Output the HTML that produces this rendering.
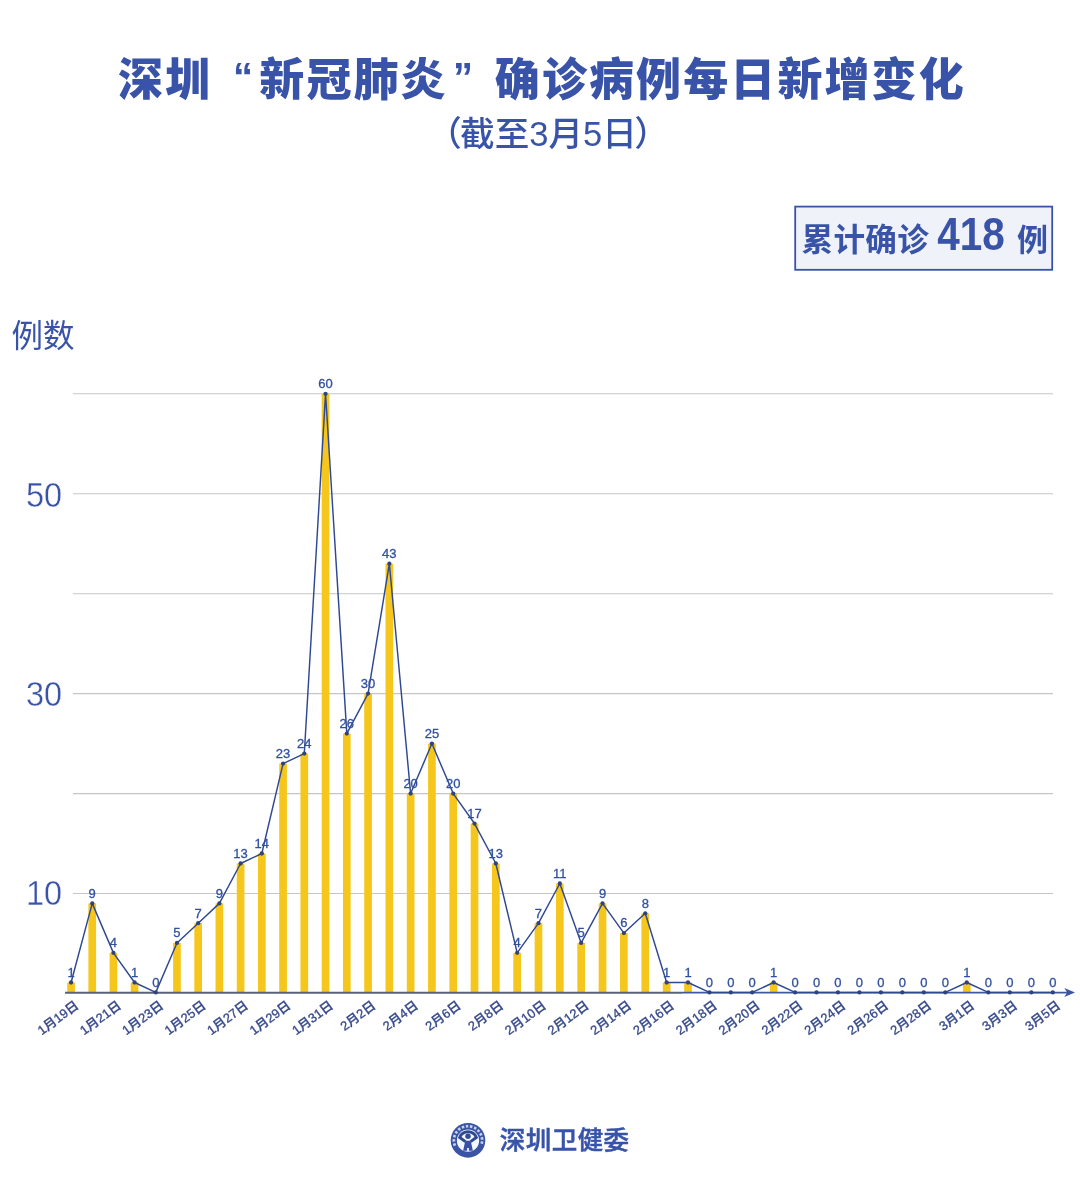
<!DOCTYPE html>
<html lang="zh-CN">
<head>
<meta charset="utf-8">
<title>深圳“新冠肺炎”确诊病例每日新增变化</title>
<style>
html,body{margin:0;padding:0;background:#fff;}
body{width:1080px;height:1184px;overflow:hidden;}
svg{display:block;}
svg text{font-family:"Liberation Sans", "Noto Sans CJK SC", sans-serif;}
</style>
</head>
<body>
<svg width="1080" height="1184" viewBox="0 0 1080 1184">
<rect x="0" y="0" width="1080" height="1184" fill="#ffffff"/>
<text x="118.0 165.1 233.0 259.3 306.4 353.5 400.6 453.0 494.8 541.9 589.0 636.1 683.2 730.3 777.4 824.5 871.6 918.7" y="95.5" font-size="45" font-weight="900" fill="#3853a8">深圳<tspan font-size="40" dy="-4.5">“</tspan><tspan dy="4.5">新冠肺炎</tspan><tspan font-size="40" dy="-4.5">”</tspan><tspan dy="4.5">确诊病例每日新增变化</tspan></text>
<text x="546.8" y="145.5" text-anchor="middle" font-size="34.6" font-weight="500" fill="#3853a8"><tspan dx="1.2">（</tspan><tspan dx="-1.6">截至3月5日</tspan><tspan dx="-2.6">）</tspan></text>
<rect x="795.2" y="206.6" width="257" height="63.2" fill="#f0f2f9" stroke="#3853a8" stroke-width="1.8"/>
<text x="801.5" y="251.3" font-size="31.6" font-weight="700" letter-spacing="0.3" fill="#3853a8">累计确诊</text>
<text x="937.2" y="250.3" font-size="46" font-weight="700" fill="#3853a8" textLength="67.5" lengthAdjust="spacingAndGlyphs">418</text>
<text x="1017" y="251.3" font-size="31" font-weight="700" fill="#3853a8">例</text>
<text x="11.6" y="346.6" font-size="31.5" fill="#3853a8">例数</text>
<g stroke="#c6c6ca" stroke-width="1.1">
<line x1="73" x2="1053" y1="893.5" y2="893.5"/>
<line x1="73" x2="1053" y1="793.6" y2="793.6"/>
<line x1="73" x2="1053" y1="693.6" y2="693.6"/>
<line x1="73" x2="1053" y1="593.7" y2="593.7"/>
<line x1="73" x2="1053" y1="493.7" y2="493.7"/>
<line x1="73" x2="1053" y1="393.8" y2="393.8"/>
</g>
<text x="26" y="904.9" font-size="35" textLength="36.2" lengthAdjust="spacingAndGlyphs" fill="#3853a8" stroke="#ffffff" stroke-width="0.4">10</text>
<text x="26" y="706.0" font-size="35" textLength="36.2" lengthAdjust="spacingAndGlyphs" fill="#3853a8" stroke="#ffffff" stroke-width="0.4">30</text>
<text x="26" y="507.1" font-size="35" textLength="36.2" lengthAdjust="spacingAndGlyphs" fill="#3853a8" stroke="#ffffff" stroke-width="0.4">50</text>
<g fill="#f5c71c">
<rect x="67.23" y="982.51" width="7.7" height="9.89"/>
<rect x="88.39" y="903.39" width="7.7" height="89.01"/>
<rect x="109.56" y="952.84" width="7.7" height="39.56"/>
<rect x="130.74" y="982.51" width="7.7" height="9.89"/>
<rect x="173.12" y="942.95" width="7.7" height="49.45"/>
<rect x="194.32" y="923.17" width="7.7" height="69.23"/>
<rect x="215.53" y="903.39" width="7.7" height="89.01"/>
<rect x="236.75" y="863.52" width="7.7" height="128.88"/>
<rect x="257.97" y="853.52" width="7.7" height="138.88"/>
<rect x="279.21" y="763.58" width="7.7" height="228.82"/>
<rect x="300.45" y="753.58" width="7.7" height="238.82"/>
<rect x="321.70" y="393.80" width="7.7" height="598.60"/>
<rect x="342.96" y="733.60" width="7.7" height="258.80"/>
<rect x="364.22" y="693.62" width="7.7" height="298.78"/>
<rect x="385.50" y="563.70" width="7.7" height="428.70"/>
<rect x="406.78" y="793.56" width="7.7" height="198.84"/>
<rect x="428.07" y="743.59" width="7.7" height="248.81"/>
<rect x="449.37" y="793.56" width="7.7" height="198.84"/>
<rect x="470.67" y="823.54" width="7.7" height="168.86"/>
<rect x="491.99" y="863.52" width="7.7" height="128.88"/>
<rect x="513.31" y="952.84" width="7.7" height="39.56"/>
<rect x="534.64" y="923.17" width="7.7" height="69.23"/>
<rect x="555.98" y="883.51" width="7.7" height="108.89"/>
<rect x="577.32" y="942.95" width="7.7" height="49.45"/>
<rect x="598.68" y="903.39" width="7.7" height="89.01"/>
<rect x="620.04" y="933.06" width="7.7" height="59.34"/>
<rect x="641.41" y="913.28" width="7.7" height="79.12"/>
<rect x="662.79" y="982.51" width="7.7" height="9.89"/>
<rect x="684.18" y="982.51" width="7.7" height="9.89"/>
<rect x="769.80" y="982.51" width="7.7" height="9.89"/>
<rect x="962.93" y="982.51" width="7.7" height="9.89"/>
</g>
<line x1="65" x2="682" y1="992.7" y2="992.7" stroke="#596279" stroke-width="1.9"/>
<line x1="682" x2="1068" y1="992.6" y2="992.6" stroke="#4059a3" stroke-width="1.9"/>
<path d="M1075 992.6 L1064.3 988.1 L1067.2 992.6 L1064.3 997.1 Z" fill="#3d55a0"/>
<polyline points="71.08,982.51 92.24,903.39 113.41,952.84 134.59,982.51 155.77,992.40 176.97,942.95 198.17,923.17 219.38,903.39 240.60,863.52 261.82,853.52 283.06,763.58 304.30,753.58 325.55,393.80 346.81,733.60 368.07,693.62 389.35,563.70 410.63,793.56 431.92,743.59 453.22,793.56 474.52,823.54 495.84,863.52 517.16,952.84 538.49,923.17 559.83,883.51 581.17,942.95 602.53,903.39 623.89,933.06 645.26,913.28 666.64,982.51 688.03,982.51 709.42,992.40 730.82,992.40 752.23,992.40 773.65,982.51 795.08,992.40 816.51,992.40 837.96,992.40 859.41,992.40 880.87,992.40 902.33,992.40 923.81,992.40 945.29,992.40 966.78,982.51 988.28,992.40 1009.79,992.40 1031.30,992.40 1052.83,992.40" fill="none" stroke="#2f4892" stroke-width="1.45" stroke-linejoin="round"/>
<g fill="#2f437f">
<circle cx="71.08" cy="982.51" r="2.15"/>
<circle cx="92.24" cy="903.39" r="2.15"/>
<circle cx="113.41" cy="952.84" r="2.15"/>
<circle cx="134.59" cy="982.51" r="2.15"/>
<circle cx="155.77" cy="992.40" r="2.15"/>
<circle cx="176.97" cy="942.95" r="2.15"/>
<circle cx="198.17" cy="923.17" r="2.15"/>
<circle cx="219.38" cy="903.39" r="2.15"/>
<circle cx="240.60" cy="863.52" r="2.15"/>
<circle cx="261.82" cy="853.52" r="2.15"/>
<circle cx="283.06" cy="763.58" r="2.15"/>
<circle cx="304.30" cy="753.58" r="2.15"/>
<circle cx="325.55" cy="393.80" r="2.15"/>
<circle cx="346.81" cy="733.60" r="2.15"/>
<circle cx="368.07" cy="693.62" r="2.15"/>
<circle cx="389.35" cy="563.70" r="2.15"/>
<circle cx="410.63" cy="793.56" r="2.15"/>
<circle cx="431.92" cy="743.59" r="2.15"/>
<circle cx="453.22" cy="793.56" r="2.15"/>
<circle cx="474.52" cy="823.54" r="2.15"/>
<circle cx="495.84" cy="863.52" r="2.15"/>
<circle cx="517.16" cy="952.84" r="2.15"/>
<circle cx="538.49" cy="923.17" r="2.15"/>
<circle cx="559.83" cy="883.51" r="2.15"/>
<circle cx="581.17" cy="942.95" r="2.15"/>
<circle cx="602.53" cy="903.39" r="2.15"/>
<circle cx="623.89" cy="933.06" r="2.15"/>
<circle cx="645.26" cy="913.28" r="2.15"/>
<circle cx="666.64" cy="982.51" r="2.15"/>
<circle cx="688.03" cy="982.51" r="2.15"/>
<circle cx="709.42" cy="992.40" r="2.15"/>
<circle cx="730.82" cy="992.40" r="2.15"/>
<circle cx="752.23" cy="992.40" r="2.15"/>
<circle cx="773.65" cy="982.51" r="2.15"/>
<circle cx="795.08" cy="992.40" r="2.15"/>
<circle cx="816.51" cy="992.40" r="2.15"/>
<circle cx="837.96" cy="992.40" r="2.15"/>
<circle cx="859.41" cy="992.40" r="2.15"/>
<circle cx="880.87" cy="992.40" r="2.15"/>
<circle cx="902.33" cy="992.40" r="2.15"/>
<circle cx="923.81" cy="992.40" r="2.15"/>
<circle cx="945.29" cy="992.40" r="2.15"/>
<circle cx="966.78" cy="982.51" r="2.15"/>
<circle cx="988.28" cy="992.40" r="2.15"/>
<circle cx="1009.79" cy="992.40" r="2.15"/>
<circle cx="1031.30" cy="992.40" r="2.15"/>
<circle cx="1052.83" cy="992.40" r="2.15"/>
</g>
<g font-size="13" text-anchor="middle" fill="#31509f" stroke="#31509f" stroke-width="0.3">
<text x="71.08" y="976.91">1</text>
<text x="92.24" y="897.79">9</text>
<text x="113.41" y="947.24">4</text>
<text x="134.59" y="976.91">1</text>
<text x="155.77" y="986.80">0</text>
<text x="176.97" y="937.35">5</text>
<text x="198.17" y="917.57">7</text>
<text x="219.38" y="897.79">9</text>
<text x="240.60" y="857.92">13</text>
<text x="261.82" y="847.92">14</text>
<text x="283.06" y="757.98">23</text>
<text x="304.30" y="747.98">24</text>
<text x="325.55" y="388.20">60</text>
<text x="346.81" y="728.00">26</text>
<text x="368.07" y="688.02">30</text>
<text x="389.35" y="558.10">43</text>
<text x="410.63" y="787.96">20</text>
<text x="431.92" y="737.99">25</text>
<text x="453.22" y="787.96">20</text>
<text x="474.52" y="817.94">17</text>
<text x="495.84" y="857.92">13</text>
<text x="517.16" y="947.24">4</text>
<text x="538.49" y="917.57">7</text>
<text x="559.83" y="877.91">11</text>
<text x="581.17" y="937.35">5</text>
<text x="602.53" y="897.79">9</text>
<text x="623.89" y="927.46">6</text>
<text x="645.26" y="907.68">8</text>
<text x="666.64" y="976.91">1</text>
<text x="688.03" y="976.91">1</text>
<text x="709.42" y="986.80">0</text>
<text x="730.82" y="986.80">0</text>
<text x="752.23" y="986.80">0</text>
<text x="773.65" y="976.91">1</text>
<text x="795.08" y="986.80">0</text>
<text x="816.51" y="986.80">0</text>
<text x="837.96" y="986.80">0</text>
<text x="859.41" y="986.80">0</text>
<text x="880.87" y="986.80">0</text>
<text x="902.33" y="986.80">0</text>
<text x="923.81" y="986.80">0</text>
<text x="945.29" y="986.80">0</text>
<text x="966.78" y="976.91">1</text>
<text x="988.28" y="986.80">0</text>
<text x="1009.79" y="986.80">0</text>
<text x="1031.30" y="986.80">0</text>
<text x="1052.83" y="986.80">0</text>
</g>
<g font-size="12.9" text-anchor="end" font-weight="500" fill="#36498a" stroke="#36498a" stroke-width="0.3">
<text transform="translate(79.68 1007.40) rotate(-36.5)">1月19日</text>
<text transform="translate(122.01 1007.40) rotate(-36.5)">1月21日</text>
<text transform="translate(164.37 1007.40) rotate(-36.5)">1月23日</text>
<text transform="translate(206.77 1007.40) rotate(-36.5)">1月25日</text>
<text transform="translate(249.20 1007.40) rotate(-36.5)">1月27日</text>
<text transform="translate(291.66 1007.40) rotate(-36.5)">1月29日</text>
<text transform="translate(334.15 1007.40) rotate(-36.5)">1月31日</text>
<text transform="translate(376.67 1007.40) rotate(-36.5)">2月2日</text>
<text transform="translate(419.23 1007.40) rotate(-36.5)">2月4日</text>
<text transform="translate(461.82 1007.40) rotate(-36.5)">2月6日</text>
<text transform="translate(504.44 1007.40) rotate(-36.5)">2月8日</text>
<text transform="translate(547.09 1007.40) rotate(-36.5)">2月10日</text>
<text transform="translate(589.77 1007.40) rotate(-36.5)">2月12日</text>
<text transform="translate(632.49 1007.40) rotate(-36.5)">2月14日</text>
<text transform="translate(675.24 1007.40) rotate(-36.5)">2月16日</text>
<text transform="translate(718.02 1007.40) rotate(-36.5)">2月18日</text>
<text transform="translate(760.83 1007.40) rotate(-36.5)">2月20日</text>
<text transform="translate(803.68 1007.40) rotate(-36.5)">2月22日</text>
<text transform="translate(846.56 1007.40) rotate(-36.5)">2月24日</text>
<text transform="translate(889.47 1007.40) rotate(-36.5)">2月26日</text>
<text transform="translate(932.41 1007.40) rotate(-36.5)">2月28日</text>
<text transform="translate(975.38 1007.40) rotate(-36.5)">3月1日</text>
<text transform="translate(1018.39 1007.40) rotate(-36.5)">3月3日</text>
<text transform="translate(1061.43 1007.40) rotate(-36.5)">3月5日</text>
</g>
<g id="logo">
<circle cx="468.00" cy="1140.35" r="17.30" fill="#3a53a4"/>
<path d="M454.88 1145.65 A14.15 14.15 0 1 1 481.73 1143.77" fill="none" stroke="#c3d2f2" stroke-width="2.7" stroke-dasharray="2.5 1.7"/>
<circle cx="468.00" cy="1140.65" r="11.1" fill="#f3f7ff"/>
<g transform="translate(468.00 1140.35)" fill="#3a50a6">
<path d="M-2.6 1.3 L-8.3 -2.9 A8.95 8.95 0 0 1 8.3 -2.9 L2.6 1.3" fill="none" stroke="#304a8e" stroke-width="3.0" stroke-linejoin="miter"/>
<circle cx="0" cy="-4.0" r="2.75" fill="#334c96"/>
<path d="M-2.7 0.4 L2.7 0.4 L4.9 10.4 L0.9 10.4 L0.9 7.7 L-0.9 7.7 L-0.9 10.4 L-4.9 10.4 Z"/>
</g>
</g>
<text x="499.8" y="1149" font-size="25.5" font-weight="500" letter-spacing="0.45" stroke="#3853a8" stroke-width="0.55" fill="#3853a8">深圳卫健委</text>
</svg>
</body>
</html>
